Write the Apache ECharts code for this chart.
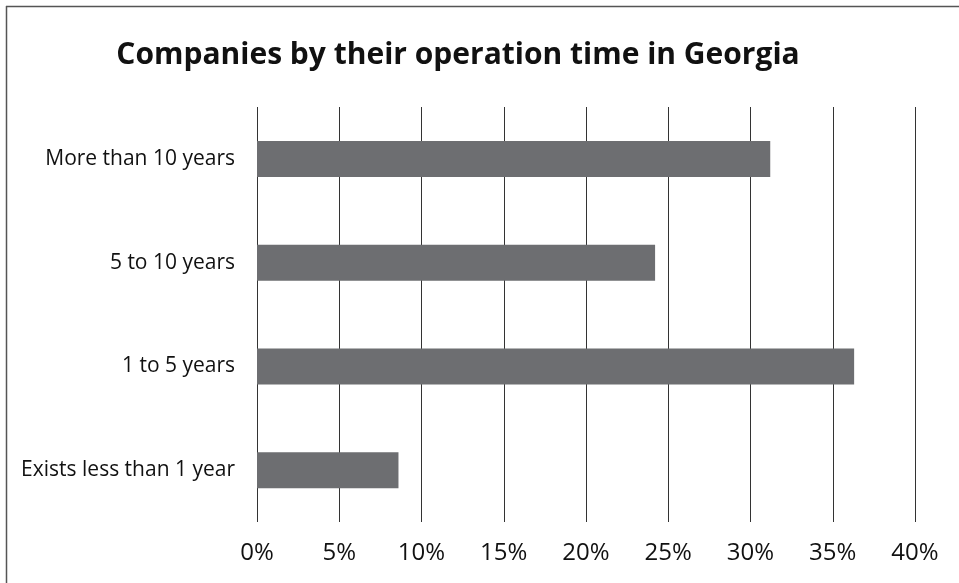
<!DOCTYPE html>
<html>
<head>
<meta charset="utf-8">
<script src="https://cdn.jsdelivr.net/npm/echarts@6/dist/echarts.min.js"></script>
<style>
  html, body { margin: 0; padding: 0; background: #ffffff; }
  #chart { width: 959px; height: 583px; }
</style>
</head>
<body>
<div id="chart"></div>
<script>
const titleText = 'Companies by their operation time in Georgia';
const categories = ['Exists less than 1 year', '1 to 5 years', '5 to 10 years', 'More than 10 years'];
const shares = [8.6, 36.3, 24.2, 31.2];
const xTicks = [0, 5, 10, 15, 20, 25, 30, 35, 40];

const chart = echarts.init(document.getElementById('chart'));
chart.setOption({
  backgroundColor: '#ffffff',
  animation: false,
  title: {
    text: titleText,
    left: 458,
    top: 40,
    padding: 0,
    textAlign: 'center',
    textStyle: { fontFamily: 'Open Sans', fontWeight: 'bold', fontSize: 30, color: '#111111' }
  },
  grid: { left: 257, right: 44, top: 107, bottom: 61, containLabel: false },
  xAxis: {
    type: 'value',
    min: xTicks[0],
    max: xTicks[xTicks.length - 1],
    interval: xTicks[1] - xTicks[0],
    axisLine: { show: false },
    axisTick: { show: false },
    splitLine: { show: true, lineStyle: { color: '#333333', width: 1 } },
    axisLabel: {
      formatter: v => v + '%',
      fontFamily: 'Open Sans', fontSize: 24, color: '#111111', margin: 19
    }
  },
  yAxis: {
    type: 'category',
    data: categories,
    axisLine: { show: false },
    axisTick: { show: false },
    splitLine: { show: false },
    axisLabel: { fontFamily: 'Open Sans', fontSize: 21, color: '#111111', margin: 22 }
  },
  series: [{
    type: 'bar',
    data: shares,
    barWidth: 36,
    itemStyle: { color: '#6d6e71' },
    silent: true
  }],
  graphic: [
    { type: 'line', shape: { x1: 6.5, y1: 6, x2: 6.5, y2: 583 }, style: { stroke: '#555555', lineWidth: 1.5 } },
    { type: 'line', shape: { x1: 6, y1: 6.5, x2: 959, y2: 6.5 }, style: { stroke: '#555555', lineWidth: 1.5 } }
  ]
});
</script>
</body>
</html>
